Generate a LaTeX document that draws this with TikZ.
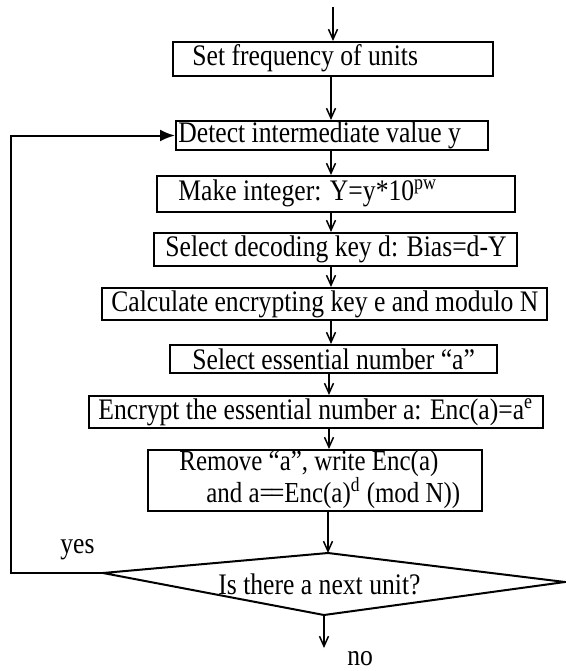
\documentclass[tikz,border=0pt]{standalone}
\usepackage{fontspec}
\setmainfont[FakeStretch=0.86]{Liberation Serif}
\usetikzlibrary{arrows.meta}
\begin{document}
\begin{tikzpicture}[x=0.5pt,y=-0.5pt,
  box/.style={draw,line width=1pt,inner sep=0pt,minimum width=#1},
  txt/.style={inner sep=0pt,anchor=west,font=\fontsize{14.9}{14}\selectfont},
  arr/.style={line width=0.75pt,-{Straight Barb[length=5pt,width=4.5pt,line width=0.75pt]}},
  looparr/.style={line width=1pt,-{Latex[length=7.5pt,width=6pt]}},
  edge/.style={line width=1pt}]
\useasboundingbox (0,0) rectangle (566,671);
% boxes
\node[box=160pt,minimum height=17pt] (b1) at (333,59) {};
\node[box=156pt,minimum height=14.5pt] (b2) at (332,135.5) {};
\node[box=179pt,minimum height=18pt] (b3) at (336,194) {};
\node[box=181.5pt,minimum height=16.5pt] (b4) at (335.5,249.5) {};
\node[box=222.5pt,minimum height=16pt] (b5) at (324.5,304) {};
\node[box=163.5pt,minimum height=14pt] (b6) at (333.5,359) {};
\node[box=227pt,minimum height=16pt] (b7) at (316,412) {};
\node[box=167pt,minimum height=30.5pt] (b8) at (315,480.5) {};
% texts
\node[txt] (t1) at (192,58) {Set frequency of units};
\node[txt] (t2) at (178,135) {Detect intermediate value y};
\node[txt] (t3) at (178,193) {Make integer: Y=y*10\textsuperscript{pw}};
\node[txt] (t4) at (165,249) {Select decoding key d: Bias=d-Y};
\node[txt] (t5) at (111,304) {Calculate encrypting key e and modulo N};
\node[txt] (t6) at (192,359) {Select essential number “a”};
\node[txt] (t7) at (98,412) {Encrypt the essential number a: Enc(a)=a\textsuperscript{e}};
\node[txt,anchor=base west,text depth=0pt,font=\fontsize{14.5}{14}\selectfont] (t8a) at (179,470) {Remove “a”, write Enc(a)};
\node[txt,anchor=base west,text height=9pt,font=\fontsize{14.5}{14}\selectfont] (t8b) at (206,502) {and a=\kern-0.12em=Enc(a)\textsuperscript{d} (mod N))};
% diamond
\coordinate (dl) at (103,573);
\coordinate (dt) at (328,553);
\coordinate (dr) at (565,582);
\coordinate (db) at (324,615);
\draw[edge] (dl) -- (dt) -- (dr) -- (db) -- cycle;
\node[txt] (t9) at (218,584) {Is there a next unit?};
\node[txt] (yes) at (60,550) {yes};
\node[txt] (no) at (347,659) {no};
% axis coordinates
\coordinate (start) at (333,7);
\coordinate (ax) at (331,0);
\coordinate (ax2) at (329,0);
\coordinate (noend) at (324,648);
\coordinate (lc) at (11,573);
% arrows
\draw[arr] (start) -- (b1.north -| start);
\draw[arr] (b1.south -| ax) -- (b2.north -| ax);
\draw[arr] (b2.south -| ax) -- (b3.north -| ax);
\draw[arr] (b3.south -| ax) -- (b4.north -| ax);
\draw[arr] (b4.south -| ax) -- (b5.north -| ax);
\draw[arr] (b5.south -| ax) -- (b6.north -| ax);
\draw[arr] (b6.south -| ax2) -- (b7.north -| ax2);
\draw[arr] (b7.south -| ax2) -- (b8.north -| ax2);
\draw[arr] (b8.south -| dt) -- (dt);
\draw[arr] (db) -- (noend);
\draw[looparr] (dl) -- (lc) |- (b2.west);
\end{tikzpicture}
\end{document}
